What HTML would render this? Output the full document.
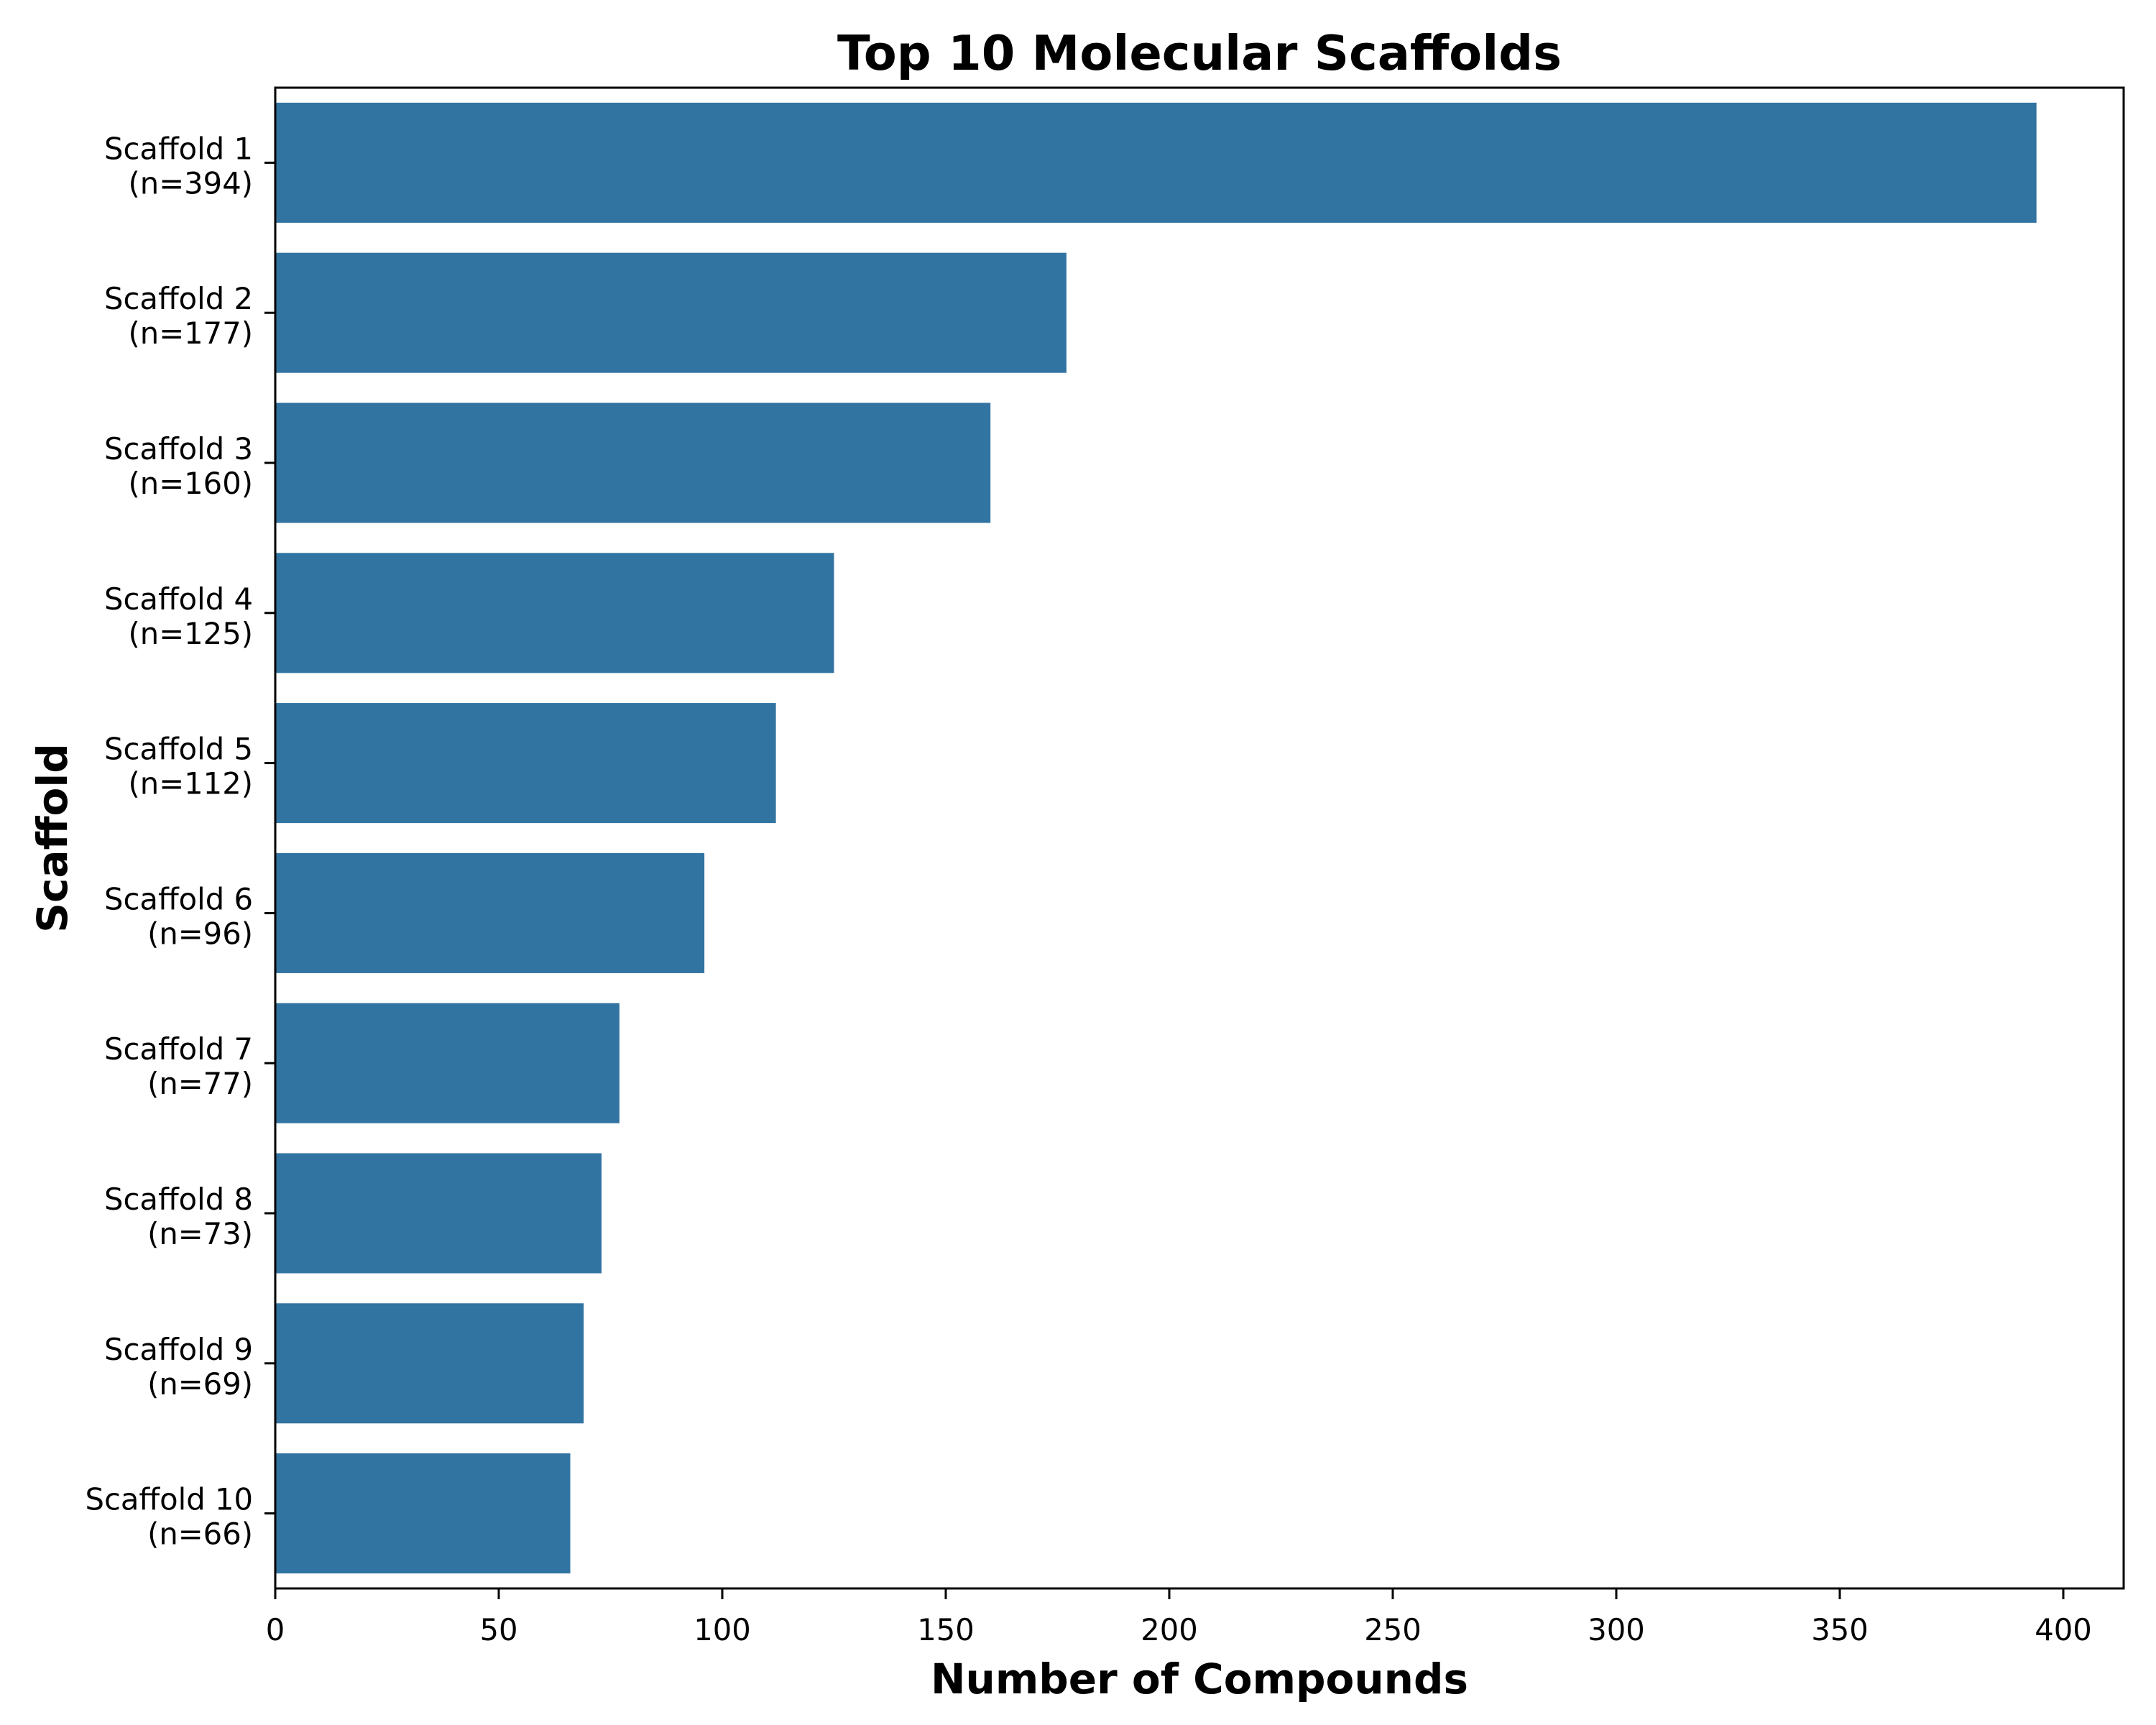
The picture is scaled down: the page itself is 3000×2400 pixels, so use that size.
<!DOCTYPE html>
<html><head><meta charset="utf-8"><style>
html,body{margin:0;padding:0;background:#fff;}
svg{display:block;font-family:"DejaVu Sans","Liberation Sans",sans-serif;}
</style></head><body>
<svg id="chart" width="3000" height="2400" viewBox="0 0 3000 2400" xmlns="http://www.w3.org/2000/svg">
<rect width="3000" height="2400" fill="#fff"/>
<text x="1669" y="97" font-size="67" font-weight="bold" text-anchor="middle">Top 10 Molecular Scaffolds</text>
<text x="1669" y="2356" font-size="58" font-weight="bold" text-anchor="middle">Number of Compounds</text>
<text x="0" y="0" font-size="58" font-weight="bold" text-anchor="middle" transform="translate(93,1166) rotate(-90)">Scaffold</text>
<g id="bars"></g>
<g id="yticks"></g>
<g id="xticks"></g>
<rect x="383" y="122" width="2572" height="2088" fill="none" stroke="#000" stroke-width="3"/>
</svg>
<script>
const categories = ["Scaffold 1","Scaffold 2","Scaffold 3","Scaffold 4","Scaffold 5","Scaffold 6","Scaffold 7","Scaffold 8","Scaffold 9","Scaffold 10"];
const counts = [394,177,160,125,112,96,77,73,69,66];
const xTicks = [0,50,100,150,200,250,300,350,400];

const NS = "http://www.w3.org/2000/svg";
const L = 383, R = 2955, T = 122, B = 2210;
const XMAX = (R - L) / ((2871 - 383) / 400);
function xs(v){ return L + v / XMAX * (R - L); }
const band = (B - T) / categories.length;
function yc(i){ return T + band * (i + 0.5); }

const bars = document.getElementById('bars');
const yt = document.getElementById('yticks');
const xt = document.getElementById('xticks');

categories.forEach((c, i) => {
  const r = document.createElementNS(NS, 'rect');
  r.setAttribute('x', xs(0));
  r.setAttribute('y', yc(i) - band * 0.4);
  r.setAttribute('width', xs(counts[i]) - xs(0));
  r.setAttribute('height', band * 0.8);
  r.setAttribute('fill', '#3274a1');
  
  
  bars.appendChild(r);

  const tk = document.createElementNS(NS, 'line');
  tk.setAttribute('x1', L - 15); tk.setAttribute('x2', L);
  tk.setAttribute('y1', yc(i)); tk.setAttribute('y2', yc(i));
  tk.setAttribute('stroke', '#000'); tk.setAttribute('stroke-width', '3');
  
  
  yt.appendChild(tk);

  const t = document.createElementNS(NS, 'text');
  t.setAttribute('text-anchor', 'end');
  t.setAttribute('font-size', '41.7');
  
  
  const s1 = document.createElementNS(NS, 'tspan');
  s1.setAttribute('x', 352); s1.setAttribute('y', yc(i) - 5);
  s1.textContent = c;
  const s2 = document.createElementNS(NS, 'tspan');
  s2.setAttribute('x', 352); s2.setAttribute('y', yc(i) + 43);
  s2.textContent = '(n=' + counts[i] + ')';
  t.appendChild(s1); t.appendChild(s2);
  yt.appendChild(t);
});

xTicks.forEach(v => {
  const tk = document.createElementNS(NS, 'line');
  tk.setAttribute('x1', xs(v)); tk.setAttribute('x2', xs(v));
  tk.setAttribute('y1', B); tk.setAttribute('y2', B + 15);
  tk.setAttribute('stroke', '#000'); tk.setAttribute('stroke-width', '3');
  
  
  xt.appendChild(tk);
  const t = document.createElementNS(NS, 'text');
  t.setAttribute('x', xs(v)); t.setAttribute('y', B + 72);
  t.setAttribute('text-anchor', 'middle');
  t.setAttribute('font-size', '41.7');
  
  
  t.textContent = v;
  xt.appendChild(t);
});
</script>
</body></html>
